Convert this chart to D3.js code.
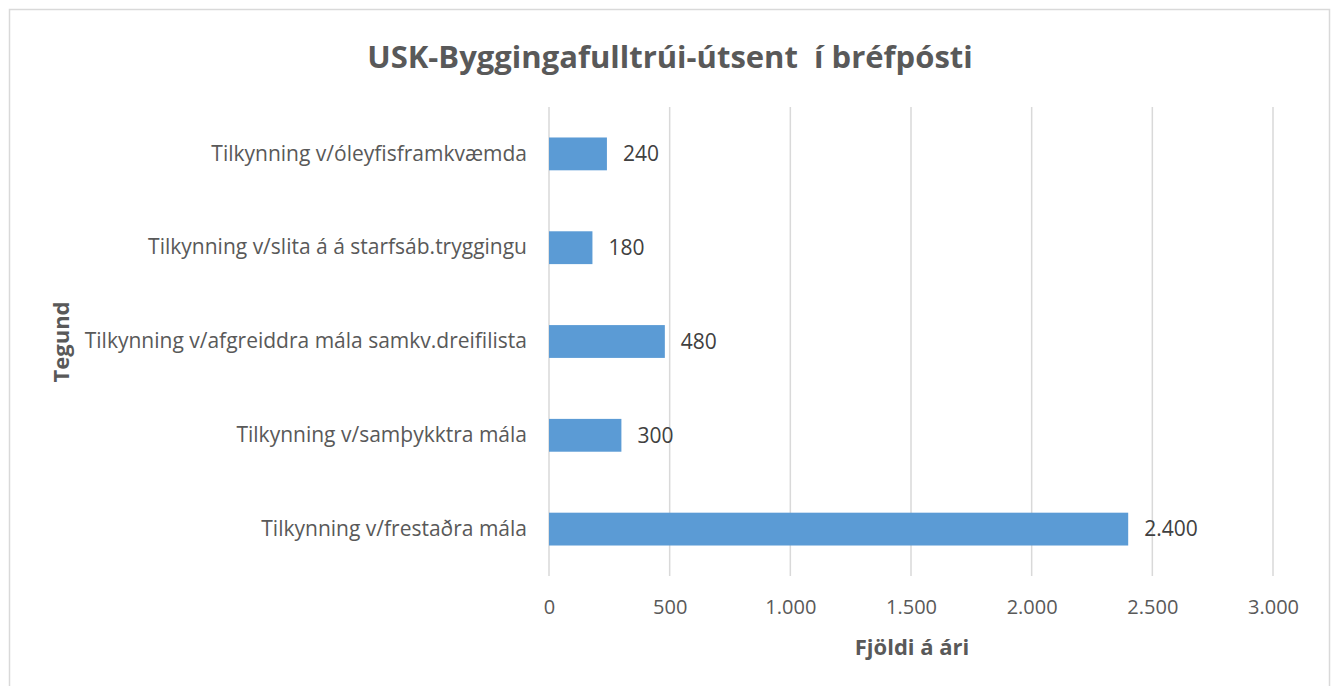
<!DOCTYPE html>
<html>
<head>
<meta charset="utf-8">
<script src="https://cdn.jsdelivr.net/npm/d3@7"></script>
<style>
  body { margin: 0; background: #fff; }
  svg text { font-family: "Open Sans", "Noto Sans", sans-serif; }
</style>
</head>
<body>
<svg id="chart" width="1336" height="686"></svg>
<script>
const categories = [
  "Tilkynning v/óleyfisframkvæmda",
  "Tilkynning v/slita á á starfsáb.tryggingu",
  "Tilkynning v/afgreiddra mála samkv.dreifilista",
  "Tilkynning v/samþykktra mála",
  "Tilkynning v/frestaðra mála"
];
const values = [240, 180, 480, 300, 2400];
const xTicks = [0, 500, 1000, 1500, 2000, 2500, 3000];

const svg = d3.select("#chart");
const margin = {left: 549, right: 63, top: 107, bottom: 110};
const width = 1336, height = 686;

// frame
svg.append("rect")
  .attr("x", 9.5).attr("y", 9.5)
  .attr("width", 1320).attr("height", 690)
  .attr("fill", "#fff").attr("stroke", "#d9d9d9").attr("stroke-width", 1.5);

const fmt = (d) => d3.format(",")(d).replace(/,/g, ".");

let x = d3.scaleLinear().domain([0, 3000]).range([margin.left, width - margin.right]);
let y = d3.scaleBand().domain(categories).range([margin.top, height - margin.bottom]).paddingInner(0.65).paddingOuter(0.325);

// gridlines
svg.append("g")
  .selectAll("line")
  .data(xTicks)
  .enter().append("line")
  .attr("x1", (d) => x(d)).attr("x2", (d) => x(d))
  .attr("y1", margin.top).attr("y2", height - margin.bottom)
  .attr("stroke", "#d9d9d9").attr("stroke-width", 1.5);

// x axis labels
const xAxis = d3.axisBottom(x).tickValues(xTicks).tickFormat(fmt).tickSize(0).tickPadding(24);
svg.append("g")
  .attr("transform", "translate(0," + (height - margin.bottom) + ")")
  .call(xAxis)
  .call((g) => g.select(".domain").remove())
  .selectAll("text")
  .attr("fill", "#595959").style("font-size", "20px");

// y axis labels
const yAxis = d3.axisLeft(y).tickSize(0).tickPadding(22);
svg.append("g")
  .attr("transform", "translate(" + margin.left + ",0)")
  .call(yAxis)
  .call((g) => g.select(".domain").remove())
  .selectAll("text")
  .attr("fill", "#595959").style("font-size", "21px");

// bars
svg.append("g")
  .selectAll("rect")
  .data(values)
  .enter().append("rect")
  .attr("x", x(0))
  .attr("y", (d, i) => y(categories[i]))
  .attr("width", (d) => x(d) - x(0))
  .attr("height", y.bandwidth())
  .attr("fill", "#5b9bd5");

// value labels
svg.append("g")
  .selectAll("text")
  .data(values)
  .enter().append("text")
  .attr("x", (d) => x(d) + 16)
  .attr("y", (d, i) => y(categories[i]) + y.bandwidth() / 2)
  .attr("dy", "0.35em")
  .attr("fill", "#404040").style("font-size", "21px")
  .text(fmt);

// title
svg.append("text")
  .attr("x", 670).attr("y", 68)
  .attr("text-anchor", "middle")
  .attr("fill", "#595959")
  .style("font-size", "31px").style("font-weight", "bold")
  .attr("xml:space", "preserve")
  .text("USK-Byggingafulltrúi-útsent  í bréfpósti");

// axis titles
svg.append("text")
  .attr("x", 912).attr("y", 655)
  .attr("text-anchor", "middle")
  .attr("fill", "#595959")
  .style("font-size", "22px").style("font-weight", "bold")
  .text("Fjöldi á ári");

svg.append("text")
  .attr("transform", "translate(69,342) rotate(-90)")
  .attr("text-anchor", "middle")
  .attr("fill", "#595959")
  .style("font-size", "22px").style("font-weight", "bold")
  .text("Tegund");
</script>
</body>
</html>
